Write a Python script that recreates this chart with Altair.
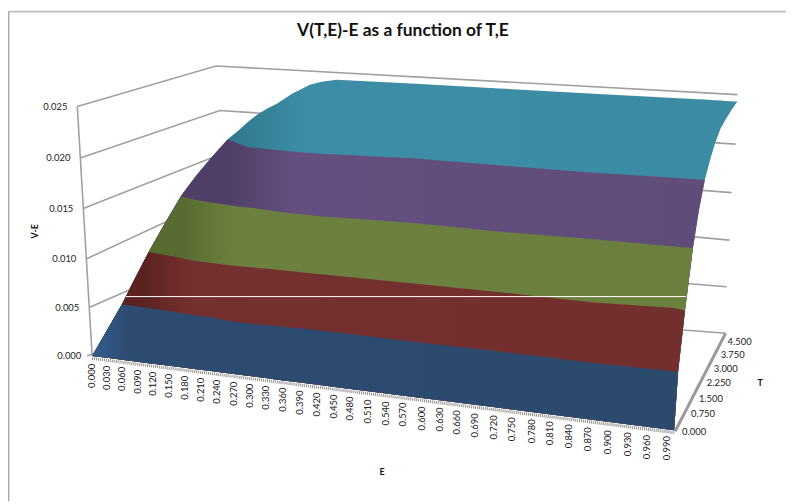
import altair as alt
import pandas as pd

FONT = "Lato"

# shared x positions of the drawn surface
surf_x = [93,108,123,135,150,167,183,198,213,230,240,250,260,270,280,295,313,325,340,380,420,500,600,681,685,692,700,706,712,717,722,728,733,738,742,745]
# lower outline of the surface
bottom = [357,358.9,360.8,362.4,364.3,366.4,368.5,370.4,372.3,374.5,375.7,377,378.3,379.6,380.9,382.8,385.1,386.6,388.5,393.6,398.7,408.9,421.7,432,373,311,248,210,179,160,143,127,118,110,104,100]
# upper edges of each colour band
teal_top   = [357,331,305,281,252,222,195,175,157,138,130,121,113,107,102,92,83,80,78,80,82,86.5,92,96.5,96.7,97,97.5,97.7,98,98.3,98.7,99,99.3,99.6,99.8,100]
purple_top = [357,331,305,281,252,222,195,175,157,138,142,146,147,148,149,150.5,152,152.7,153.5,155.5,157.5,164,172,177,177.3,177.7,178.3,178.7,179,160,143,127,118,110,104,100]
green_top  = [357,331,305,281,252,222,196,199.5,202,204.5,206,207,208,209.5,211,213,214.5,216,217,220,223,231,239,246.5,246.8,247.4,248,210,179,160,143,127,118,110,104,100]
red_top    = [357,331,305,281,252,255,258,261,263,265,266,267,268,269,270,271.5,273.5,274.5,276,280,284,292,303,308.5,309.5,311,248,210,179,160,143,127,118,110,104,100]
blue_top   = [357,331,305,306.5,308.5,311,313.5,316,318,321.5,323,324,325,326,327,328.5,330,331.5,333,338,343,352,364,372.5,373,311,248,210,179,160,143,127,118,110,104,100]

band_stops = {
    "teal":   [("#2F788D",0.0),("#2F788D",0.21),("#3D8DA6",0.33),("#3B8CA3",1.0)],
    "purple": [("#4F3F66",0.0),("#4F3F66",0.21),("#644F80",0.31),("#5F4C78",1.0)],
    "green":  [("#586C32",0.0),("#586C32",0.14),("#6C813F",0.22),("#6B803E",1.0)],
    "red":    [("#5C2222",0.0),("#5C2222",0.08),("#74302E",0.15),("#722F2D",1.0)],
    "blue":   [("#335A88",0.0),("#335A88",0.01),("#2D4B70",0.06),("#2C4A6D",1.0)],
}
band_tops = {"teal":teal_top,"purple":purple_top,"green":green_top,"red":red_top,"blue":blue_top}

# wall grid polylines
grid_025 = [(78,105),(218,64),(745,93)]
grid_020 = [(81,157),(222,109),(743,143)]
grid_015 = [(84,208),(226,152),(739,192)]
grid_010 = [(87,259),(229,193),(737,240)]
grid_005 = [(90,308),(232,246),(734,287)]
grid_000 = [(88,357),(235,295),(733,334)]
value_axis = [(78,105),(93,357)]

y_labels = ["0.025","0.020","0.015","0.010","0.005","0.000"]
y_label_x = [68,71,74,77,80,82]
y_label_y = [105.7,157.5,209,259.5,309,357.5]

t_labels = ["0.000","0.750","1.500","2.250","3.000","3.750","4.500"]
t_label_x = [689,698,706,714,721,728,735]
t_label_y = [434,416,400,384,370,356,343]

e_labels = ["0.000","0.030","0.060","0.090","0.120","0.150","0.180","0.210","0.240","0.270","0.300","0.330",
            "0.360","0.390","0.420","0.450","0.480","0.510","0.540","0.570","0.600","0.630","0.660","0.690",
            "0.720","0.750","0.780","0.810","0.840","0.870","0.900","0.930","0.960","0.990"]
e_label_x = [93,108,123,139,155,171,187,203,219,236,253,269,286,303,320,337,354,372,390,407,426,444,462,480,
             499,517,537,556,575,594,614,634,654,674]
e_label_top = [365,367,368,371,373,375,377,379,381,383,385,387,389,392,394,396,398,401,403,404,408,409,412,415,
               417,419,421,423,426,429,432,434,437,438]

XS = alt.Scale(domain=[8,794])
YS = alt.Scale(domain=[504,8])
X = alt.X("x:Q", scale=XS, axis=None)
Y = alt.Y("y:Q", scale=YS, axis=None)


def poly(points, color="#A0A0A0", width=1.6, dash=None):
    df = pd.DataFrame({"x":[p[0] for p in points],"y":[p[1] for p in points],"i":range(len(points))})
    kw = {"strokeDash":dash} if dash else {}
    return alt.Chart(df).mark_line(color=color, strokeWidth=width, clip=True, **kw).encode(x=X, y=Y, order="i:Q")


def texts(labels, xs, ys, size=9.5, align="left", angle=0, bold=False, color="#222222", baseline="middle"):
    df = pd.DataFrame({"t":labels,"x":xs,"y":ys})
    return alt.Chart(df).mark_text(font=FONT, fontSize=size, align=align, angle=angle, baseline=baseline,
                                   fontWeight="bold" if bold else "normal", color=color).encode(x=X, y=Y, text="t:N")


layers = []
# chart frame
layers.append(poly([(8.6,9),(8.6,504)], "#A6A6A6", 1.5))
layers.append(poly([(8,9),(794,9)], "#BDBDBD", 2))
# walls
for g in [grid_025,grid_020,grid_015,grid_010,grid_005,grid_000]:
    layers.append(poly(g))
layers.append(poly(value_axis))
# surface bands, painted back to front
for name in ["teal","purple","green","red","blue"]:
    df = pd.DataFrame({"x":surf_x,"y":band_tops[name],"y2":bottom})
    stops = [alt.GradientStop(color=c, offset=o) for c,o in band_stops[name]]
    m = alt.Chart(df).mark_area(color=alt.Gradient(gradient="linear", x1=0, x2=1, y1=0, y2=0, stops=stops))
    layers.append(m.encode(x=X, y=Y, y2=alt.Y2("y2:Q")))
# white line across the surface
layers.append(poly([(127,297),(693,297)], "#FFFFFF", 1))
# axes at the floor
layers.append(poly([(93,359.5),(681,434.5)], "#8E8E8E", 3, [1,1]))
layers.append(poly([(682,433),(733,334)], "#9A9A9A", 3))
# text
layers.append(texts(y_labels, y_label_x, y_label_y, align="right"))
layers.append(texts(t_labels, t_label_x, t_label_y))
layers.append(texts(e_labels, e_label_x, e_label_top, align="right", angle=270))
layers.append(texts(["V(T,E)-E as a function of T,E"], [407], [29], size=17.6, align="center", bold=True, color="#111111"))
layers.append(texts(["V-E"], [35], [231], size=9, align="center", angle=270, bold=True, color="#111111"))
layers.append(texts(["E"], [386], [474], size=9, align="center", bold=True, color="#111111"))
layers.append(texts(["T"], [768], [384], size=9, align="center", bold=True, color="#111111"))

chart = alt.layer(*layers).properties(width=786, height=496, padding=0).configure_view(stroke=None)
chart.save("out.html", embed_options={"renderer": "svg", "actions": False})
